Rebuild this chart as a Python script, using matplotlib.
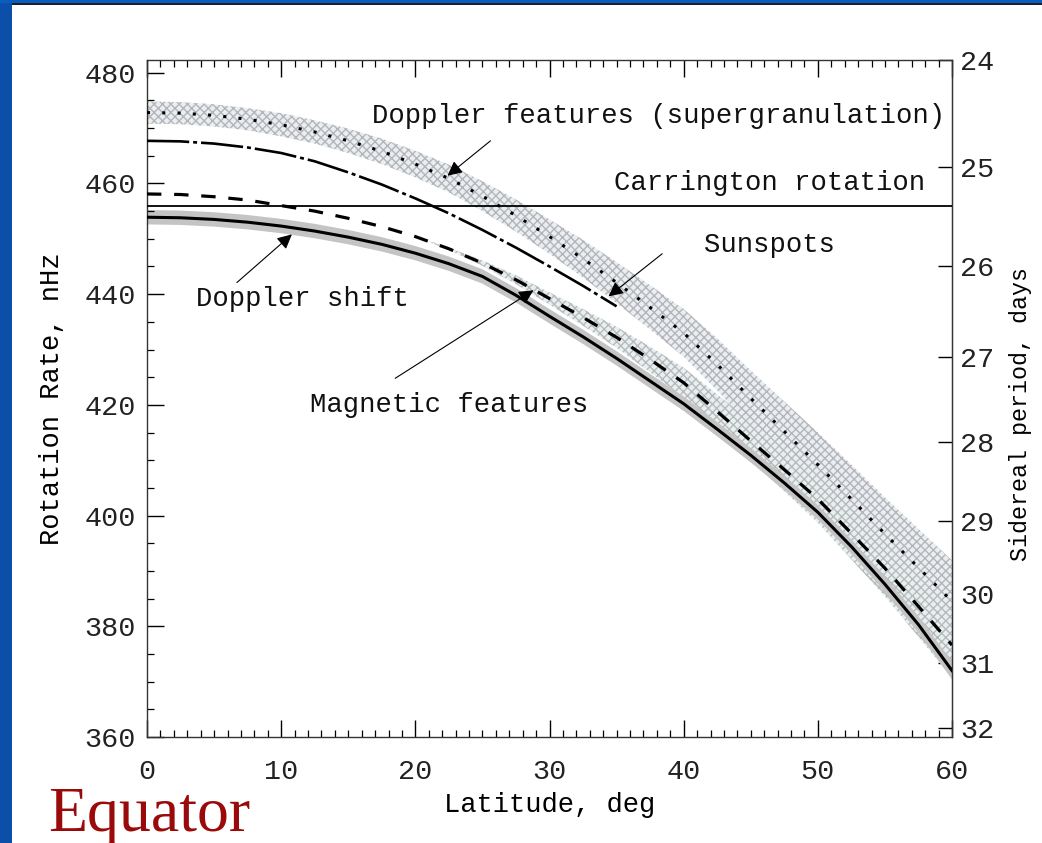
import matplotlib
matplotlib.use("Agg")
import matplotlib.pyplot as plt
import numpy as np
from matplotlib.patches import Rectangle

# ---------------- data ----------------
lat = [0, 2.5, 5, 7.5, 10, 12.5, 15, 17.5, 20, 22.5, 25, 27.5, 30,
       32.5, 35, 37.5, 40, 42.5, 45, 47.5, 50, 52.5, 55, 57.5, 60]
doppler_features = [472.8, 472.7, 472.3, 471.6, 470.6, 469.3, 467.7, 465.8, 463.5, 460.9, 457.7, 454.2, 450.4,
                    446.4, 442.1, 437.6, 433.0, 427.3, 421.2, 415.2, 409.2, 403.0, 396.7, 390.6, 384.5]
doppler_features_halfwidth = [2.0, 2.0, 2.0, 2.0, 2.1, 2.1, 2.2, 2.3, 2.4, 2.5, 2.7, 2.9, 3.1,
                              3.4, 3.7, 4.0, 4.3, 4.7, 5.0, 5.4, 5.8, 6.2, 6.6, 7.0, 7.4]
lat_sunspots = [0, 2.5, 5, 7.5, 10, 12.5, 15, 17.5, 20, 22.5, 25, 27.5, 30, 32.5, 35]
sunspots = [467.7, 467.6, 467.2, 466.5, 465.5, 464.0, 462.0, 459.8, 457.3, 454.6, 451.6, 448.4, 445.0, 441.5, 437.8]
magnetic_features = [458.1, 458.0, 457.6, 457.0, 456.0, 455.0, 453.7, 452.2, 450.4, 448.2, 445.6, 442.6, 439.2,
                     435.8, 432.2, 428.2, 424.0, 418.8, 413.5, 408.3, 403.0, 396.8, 390.5, 383.6, 376.6]
magnetic_halfwidth = [0.0, 0.0, 0.0, 0.0, 0.0, 0.0, 0.0, 0.0, 0.0, 0.2, 0.5, 0.8, 1.1,
                      1.5, 1.9, 2.3, 2.7, 3.1, 3.5, 3.9, 4.3, 4.7, 5.1, 5.5, 5.9]
doppler_shift = [453.9, 453.8, 453.5, 453.0, 452.3, 451.4, 450.3, 449.0, 447.4, 445.5, 443.2, 439.8, 436.0,
                 432.3, 428.4, 424.3, 420.2, 415.6, 410.9, 405.9, 400.6, 394.4, 387.6, 380.3, 372.0]
doppler_shift_halfwidth = [1.3] * 22 + [1.4, 1.5, 1.6]
carrington_rate = 456.0

x_ticks = [0, 10, 20, 30, 40, 50, 60]
y_ticks = [360, 380, 400, 420, 440, 460, 480]
period_ticks = [24, 25, 26, 27, 28, 29, 30, 31, 32]

NHZ_PER_INV_DAY = 1e9 / 86400.0
MONO = "Liberation Mono"

# ---------------- figure ----------------
fig = plt.figure(figsize=(10.42, 8.43), dpi=100)
fig.patch.set_facecolor("white")

# slide decorations (blue frame strips)
fig.patches.append(Rectangle((0, 0), 12 / 1042, 1, transform=fig.transFigure,
                             facecolor="#0b4fa8", edgecolor="none", zorder=-5))
fig.patches.append(Rectangle((0, 1 - 3 / 843), 1, 3 / 843, transform=fig.transFigure,
                             facecolor="#0b5cc0", edgecolor="none", zorder=-5))
fig.patches.append(Rectangle((12 / 1042, 1 - 5 / 843), 1, 2 / 843, transform=fig.transFigure,
                             facecolor="#202020", edgecolor="none", zorder=-4))

ax = fig.add_axes([147 / 1042, (843 - 737) / 843, (952 - 147) / 1042, (737 - 60) / 843])
ax.set_xlim(0, 60)
ax.set_ylim(360, 482.3)

lat_a = np.array(lat)
df = np.array(doppler_features)
dfw = np.array(doppler_features_halfwidth)
mf = np.array(magnetic_features)
mfw = np.array(magnetic_halfwidth)
ds = np.array(doppler_shift)
dsw = np.array(doppler_shift_halfwidth)

# bands
ax.fill_between(lat_a, df - dfw, df + dfw, facecolor="#e6f0f2", edgecolor="#b9b3b9",
                hatch="xxxx", linewidth=0, zorder=1)
ax.fill_between(lat_a, mf - mfw, mf + mfw, facecolor="#e6f0f2", edgecolor="#b9b9b9",
                hatch="xxxx", linewidth=0, zorder=1)
ax.fill_between(lat_a, ds - dsw, ds + dsw, facecolor="#c4c4c4", edgecolor="none",
                linewidth=0, zorder=1)

# curves
ax.axhline(carrington_rate, color="black", lw=1.3, zorder=3)
ax.plot(lat, doppler_features, color="black", lw=2.2, linestyle=(0, (1, 4)), zorder=4)
ax.plot(lat_sunspots, sunspots, color="black", lw=1.9, linestyle=(0, (16, 1.5, 1.5, 1.5)), zorder=4)
ax.plot(lat, magnetic_features, color="black", lw=2.3, linestyle=(0, (4.5, 4)), zorder=4)
ax.plot(lat, doppler_shift, color="black", lw=2.2, zorder=4)

# ticks
ax.set_xticks(x_ticks)
ax.set_xticks(np.arange(0, 61, 1), minor=True)
ax.set_yticks(y_ticks)
ax.set_yticks(np.arange(360, 481, 5), minor=True)
ax.tick_params(axis="x", which="major", pad=16)
ax.tick_params(axis="y", which="major", pad=8)
ax.tick_params(which="major", direction="in", length=12, width=1, top=True, right=False,
               labelsize=20.5, colors="black")
ax.tick_params(which="minor", direction="in", length=5, width=0.9, top=True, right=False)
for lab in ax.get_xticklabels() + ax.get_yticklabels():
    lab.set_fontfamily(MONO)
    lab.set_color("#222222")
for s in ax.spines.values():
    s.set_linewidth(1.0)
    s.set_color("#333333")

sec = ax.secondary_yaxis("right", functions=(lambda r: NHZ_PER_INV_DAY / np.asarray(r, dtype=float),
                                               lambda p: NHZ_PER_INV_DAY / np.asarray(p, dtype=float)))
sec.set_yticks(period_ticks)
sec.tick_params(direction="in", length=10, width=1, labelsize=20.5, pad=6)
for lab in sec.get_yticklabels():
    lab.set_fontfamily(MONO)
    lab.set_color("#222222")
sec.spines["right"].set_color("#333333")

ax.set_xlabel("Latitude, deg", fontsize=19.5, family=MONO, labelpad=5)
ax.set_ylabel("Rotation Rate, nHz", fontsize=19.5, family=MONO, labelpad=14)
fig.text(1021 / 1042, 1 - 414 / 843, "Sidereal period, days", fontsize=16.8, family=MONO,
         rotation=90, ha="center", va="center", color="black")

# annotations
txt_kw = dict(fontsize=19.6, family=MONO, ha="center", va="center", color="#111111")
ax.text(38.15, 472.2, "Doppler features (supergranulation)", **txt_kw)
ax.text(46.4, 460.1, "Carrington rotation", **txt_kw)
ax.text(46.4, 448.8, "Sunspots", **txt_kw)
ax.text(11.55, 439.2, "Doppler shift", **txt_kw)
ax.text(22.5, 419.9, "Magnetic features", **txt_kw)

arrow_kw = dict(arrowstyle="-|>", lw=0.8, color="black", mutation_scale=22, shrinkA=0, shrinkB=0)
ax.annotate("", xy=(22.4, 461.4), xytext=(25.6, 467.7), arrowprops=arrow_kw, zorder=6)
ax.annotate("", xy=(34.4, 439.6), xytext=(38.4, 447.3), arrowprops=arrow_kw, zorder=6)
ax.annotate("", xy=(10.8, 450.8), xytext=(6.7, 442.1), arrowprops=arrow_kw, zorder=6)
ax.annotate("", xy=(28.8, 440.7), xytext=(18.5, 424.8), arrowprops=arrow_kw, zorder=6)

fig.text(48 / 1042, 1 - 816 / 843, "Equator", fontsize=46, family="Liberation Serif",
         color="#9b0a0a", ha="left", va="center")

fig.savefig("out.png", dpi=100)
